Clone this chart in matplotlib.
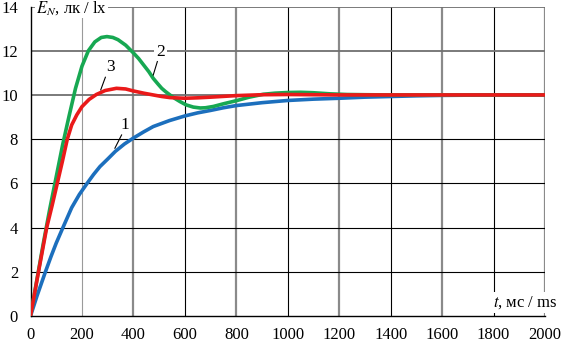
import matplotlib
matplotlib.use('Agg')
import matplotlib.pyplot as plt
import numpy as np

plt.rcParams['font.family'] = ['Liberation Serif', 'DejaVu Serif']
plt.rcParams['mathtext.fontset'] = 'stix'

# curve 1 (blue)
t1 = [0, 25, 58, 80, 100, 126, 160, 190, 220, 245, 270, 300, 330, 365, 400,
      440, 477, 540, 600, 650, 700, 750, 800, 900, 1000, 1100, 1200, 1300,
      1400, 1500, 1600, 1800, 2000]
e1 = [0, 0.9, 2.0, 2.7, 3.3, 4.0, 4.9, 5.5, 6.0, 6.4, 6.76, 7.1, 7.45, 7.78,
      8.05, 8.33, 8.57, 8.84, 9.05, 9.19, 9.3, 9.42, 9.52, 9.65, 9.75, 9.81,
      9.85, 9.9, 9.93, 9.96, 9.98, 10.0, 10.0]

# curve 2 (green)
t2 = [0, 25, 50, 75, 100, 125, 150, 175, 200, 225, 250, 275, 297, 320, 340,
      370, 400, 420, 440, 460, 477, 495, 510, 525, 542, 560, 581, 605, 633,
      660, 680, 711, 750, 800, 850, 905, 950, 1000, 1050, 1099, 1164, 1230,
      1300, 1400, 2000]
e2 = [0, 1.65, 3.3, 4.85, 6.3, 7.75, 9.05, 10.3, 11.3, 12.0, 12.4, 12.6,
      12.64, 12.6, 12.5, 12.25, 11.9, 11.65, 11.35, 11.05, 10.75, 10.5, 10.3,
      10.15, 10.0, 9.85, 9.7, 9.55, 9.45, 9.41, 9.42, 9.48, 9.6, 9.74, 9.9,
      10.03, 10.08, 10.11, 10.12, 10.1, 10.05, 10.02, 10.01, 10.0, 10.0]

# curve 3 (red)
t3 = [0, 31, 63, 84, 104, 124, 143, 160, 180, 200, 228, 256, 290, 334, 370,
      400, 440, 477, 510, 542, 600, 650, 700, 800, 900, 1000, 1100, 1200, 2000]
e3 = [0, 2.0, 4.0, 5.0, 6.0, 7.0, 8.0, 8.64, 9.1, 9.47, 9.8, 10.02, 10.2,
      10.3, 10.27, 10.18, 10.08, 10.0, 9.93, 9.88, 9.85, 9.87, 9.9, 9.97,
      10.01, 10.02, 10.01, 10.0, 10.0]

xticks = np.arange(0, 2001, 200)
yticks = np.arange(0, 15, 2)

fig = plt.figure(figsize=(5.66, 3.43), dpi=100)
ax = fig.add_axes([0.0539, 0.0787, 0.9091, 0.9023])

# grid: alternating gray / black lines
for x in xticks[1:]:
    if x == 200:
        ax.axvline(x, color='#9a9a9a', lw=0.8, zorder=1)
    elif x % 400 == 0:
        ax.axvline(x, color='#8a8a8a', lw=1.6, zorder=1)
    else:
        ax.axvline(x, color='black', lw=0.8, zorder=1)
for y in yticks[1:]:
    if y >= 10:
        ax.axhline(y, color='#707070', lw=1.3, zorder=1)
    else:
        ax.axhline(y, color='black', lw=0.8, zorder=1)

ax.plot(t1, e1, color='#1c6fbd', lw=2.6, zorder=3, solid_capstyle='round',
        solid_joinstyle='round')
ax.plot(t2, e2, color='#17a852', lw=2.6, zorder=4, solid_capstyle='round',
        solid_joinstyle='round')
ax.plot(t3, e3, color='#ea1a1a', lw=2.6, zorder=5, solid_capstyle='round',
        solid_joinstyle='round')

# curve labels with leader lines
ax.text(367, 8.64, '1', fontsize=12.5, ha='center', va='center', zorder=6)
ax.plot([354, 328], [8.19, 7.59], color='black', lw=0.8, zorder=6)
ax.text(507, 11.96, '2', fontsize=12.5, ha='center', va='center', zorder=6,
        bbox=dict(facecolor='white', edgecolor='none', pad=1.5))
ax.plot([493, 477], [11.51, 10.9], color='black', lw=0.8, zorder=6)
ax.text(312, 11.28, '3', fontsize=12.5, ha='center', va='center', zorder=6)
ax.plot([291, 273], [10.8, 10.23], color='black', lw=0.8, zorder=6)

ax.text(21, 13.93, r'$E_N$, лк / lx', fontsize=12, ha='left', va='center',
        zorder=7, clip_on=False,
        bbox=dict(facecolor='white', edgecolor='none', pad=0.8))
ax.text(2050, 0.6, r'$t$, мс / ms', fontsize=12, ha='right', va='center',
        zorder=7, clip_on=False,
        bbox=dict(facecolor='white', edgecolor='none', pad=1.5))

ax.set_xlim(0, 2000)
ax.set_ylim(0, 14)
ax.set_xticks(xticks)
ax.set_yticks(yticks)
ax.tick_params(length=0, labelsize=12)
ax.tick_params(axis='x', pad=8)
ax.tick_params(axis='y', pad=9)
for s in ['top', 'right']:
    ax.spines[s].set_visible(False)
for s in ['left', 'bottom']:
    ax.spines[s].set_color('black')
    ax.spines[s].set_linewidth(1.0)
    ax.spines[s].set_zorder(2)

fig.savefig('out.png', dpi=100)
